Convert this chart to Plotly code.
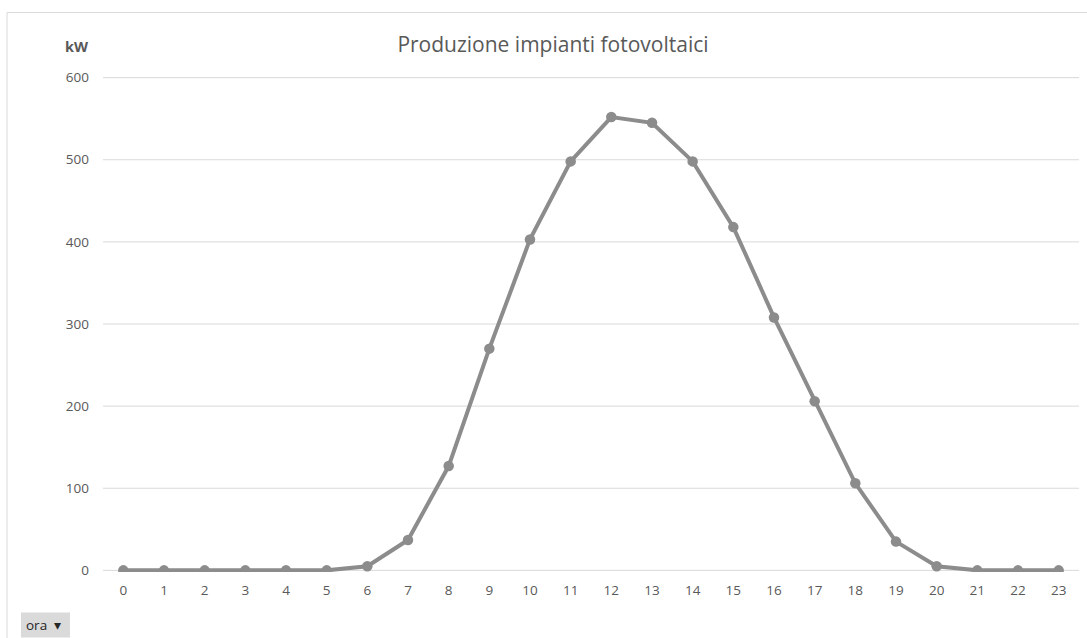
import plotly.graph_objects as go

hours = [str(h) for h in range(24)]
kw = [0, 0, 0, 0, 0, 0, 5, 37, 127, 270, 403, 498, 552, 545, 498, 418, 308, 206, 106, 35, 5, 0, 0, 0]
y_ticks = [0, 100, 200, 300, 400, 500, 600]

FONT = "Open Sans"
GREY_TXT = "#595959"

W, H = 1087, 638
PXU = 0.82  # pixels per kW
L, R = 103, 8
T, B = 78 - 2 * PXU, 68 - 2 * PXU
PW, PH = W - L - R, H - T - B

def px(x):
    return (x - L) / PW

def py(y):
    return (H - B - y) / PH

fig = go.Figure()
fig.add_trace(go.Scatter(
    x=hours, y=kw, mode="lines+markers",
    line=dict(color="#8c8c8c", width=4),
    marker=dict(color="#8c8c8c", size=10.5),
    showlegend=False, hoverinfo="x+y",
))

shapes = [
    dict(type="line", xref="paper", yref="y", x0=0, x1=1, y0=v, y1=v,
         line=dict(color="#d9d9d9", width=1), layer="below")
    for v in y_ticks
]
shapes += [
    dict(type="rect", xref="paper", yref="paper",
         x0=px(7), x1=px(1095), y0=py(650), y1=py(13),
         line=dict(color="#d9d9d9", width=1), fillcolor="rgba(0,0,0,0)", layer="below"),
    dict(type="rect", xref="paper", yref="paper",
         x0=px(21), x1=px(70), y0=py(637), y1=py(612),
         line=dict(color="#d0d0d0", width=0), fillcolor="#dadada", layer="above"),
]

fig.update_layout(
    width=W, height=H,
    margin=dict(l=L, r=R, t=T, b=B),
    paper_bgcolor="white", plot_bgcolor="white",
    font=dict(family=FONT, color=GREY_TXT, size=13),
    title=dict(text="Produzione impianti fotovoltaici", x=553 / W, xanchor="center",
               y=1 - 45 / H, yanchor="middle",
               font=dict(family=FONT, size=21, color=GREY_TXT)),
    xaxis=dict(type="category", range=[-0.5, 23.5], showgrid=False, zeroline=False,
               showline=False, ticks="", ticklabelstandoff=8,
               tickfont=dict(size=13.5, color=GREY_TXT), fixedrange=True),
    yaxis=dict(range=[-2, 602], tickvals=y_ticks, showgrid=False,
               zeroline=False, showline=False, ticks="",
               ticklabelstandoff=13, tickfont=dict(size=13.5, color=GREY_TXT),
               fixedrange=True),
    shapes=shapes,
    annotations=[
        dict(text="<b>kW</b>", xref="paper", yref="paper", x=px(76.5), y=py(47),
             xanchor="center", yanchor="middle", showarrow=False,
             font=dict(family=FONT, size=14.5, color=GREY_TXT)),
        dict(text="ora  \u25be", xref="paper", yref="paper", x=px(24), y=py(624.5),
             xanchor="left", yanchor="middle", showarrow=False,
             font=dict(family=FONT, size=13.5, color="#262626")),
    ],
)

fig.write_html("out.html", config={"displayModeBar": False})
